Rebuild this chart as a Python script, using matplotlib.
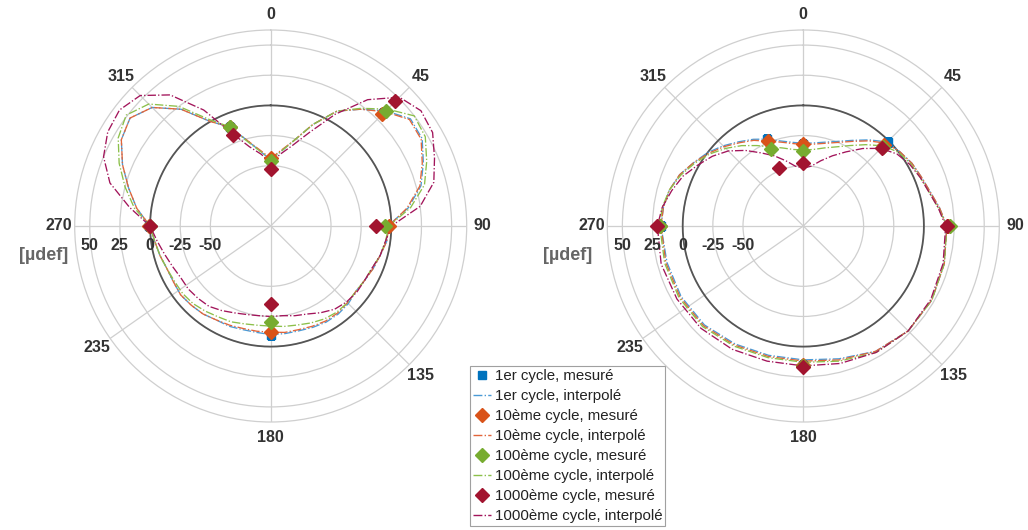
import numpy as np
import matplotlib
matplotlib.use("Agg")
import matplotlib.pyplot as plt
from matplotlib.lines import Line2D
from matplotlib.transforms import ScaledTranslation

# ---------------- data ----------------
series_names = ["1er cycle", "10ème cycle", "100ème cycle", "1000ème cycle"]

# measured angles (deg, clockwise from north)
meas_theta = [0, 45, 90, 180, 270, 337.5]

# left panel measured values [µdef]
left_meas_1 = [-45, 32, -3, -10, 1, -11]
left_meas_10 = [-44, 31, -2, -12, 1, -11]
left_meas_100 = [-46, 35, -5, -20, 0, -11]
left_meas_1000 = [-53, 46, -13, -35, 0, -18]

# right panel measured values [µdef]
right_meas_1 = [-32, -1, 21, 15, 18, -22]
right_meas_10 = [-32, -5, 20, 15, 19, -24]
right_meas_100 = [-38, -7, 22, 16, 19, -31]
right_meas_1000 = [-48, -8, 19, 17, 21, -48]

# left panel interpolated curves (every 7.5 deg)
left_theta = [0, 7.5, 15, 22.5, 30, 37.5, 45, 52.5, 60, 67.5, 75, 82.5,
              90, 97.5, 105, 112.5, 120, 127.5, 135, 142.5, 150, 157.5, 165, 172.5,
              180, 187.5, 195, 202.5, 210, 217.5, 225, 232.5, 240, 247.5, 255, 262.5,
              270, 277.5, 285, 292.5, 300, 307.5, 315, 322.5, 330, 337.5, 345, 352.5]
left_curve_1 = [-45, -38, -27, -9, 10, 22, 35, 46, 45, 37, 29, 15,
                -3, -3, -6, -8, -10, -11, -9, -8, -8, -9, -10, -10,
                -10, -11, -11, -10, -10, -8, -7, -6, -7, -7, -5, -3,
                0, 12, 22, 33, 43, 47, 39, 22, 0, -11, -27, -38]
left_curve_10 = [-44, -37, -27, -9, 10, 22, 34, 45, 44, 36, 28, 14,
                 -2, -3, -6, -8, -10, -11, -10, -9, -9, -10, -11, -11,
                 -12, -12, -12, -11, -10, -8, -7, -6, -7, -7, -5, -3,
                 0, 12, 22, 33, 43, 47, 39, 22, 0, -11, -27, -37]
left_curve_100 = [-45, -38, -27, -9, 10, 23, 37, 50, 48, 40, 32, 17,
                  -2, -4, -6, -9, -10, -11, -10, -10, -11, -13, -15, -16,
                  -17, -17, -16, -14, -13, -11, -9, -8, -8, -7, -5, -3,
                  0, 14, 25, 36, 46, 51, 43, 25, 2, -11, -28, -38]
left_curve_1000 = [-48, -40, -31, -16, 7, 32, 51, 57, 55, 47, 40, 25,
                   0, -4, -6, -9, -10, -10, -11, -13, -17, -21, -23, -25,
                   -25, -25, -24, -22, -19, -16, -15, -14, -14, -12, -9, -5,
                   0, 18, 38, 50, 56, 58, 53, 37, 11, -17, -32, -40]

# right panel interpolated curves
right_theta = [0, 7.5, 15, 22.5, 30, 37.5, 45, 52.5, 60, 67.5, 75, 82.5,
               90, 105, 120, 135, 150, 165, 180, 195, 210, 225, 240, 255,
               270, 277.5, 285, 292.5, 300, 307.5, 315, 322.5, 330, 337.5, 345, 352.5]
right_curve_1 = [-31.5, -30.5, -28, -24, -18, -10, -1.5, 1, 4, 6, 9, 14,
                 19, 21, 23, 23, 20, 14, 11, 11, 13, 16, 17, 17,
                 18, 17, 15, 11, 5, 0, -6, -12, -17, -22, -27, -30]
right_curve_10 = [-32.5, -31.5, -29, -25, -19, -11, -3, 1, 4, 6, 9, 14,
                  19, 21, 23, 23, 20, 15, 12, 12, 14, 17, 18, 18,
                  18, 17, 15, 11, 5, -1, -7, -13, -18, -24, -28, -31]
right_curve_100 = [-37, -36, -33, -29, -23, -15, -6, 0, 3, 5, 8, 13,
                   19, 21, 23, 23, 21, 16, 13, 13, 15, 18, 19, 19,
                   19, 18, 15, 10, 4, -2, -9, -16, -23, -29, -33, -36]
right_curve_1000 = [-52, -50, -44, -37, -29, -19, -9, -2, 2, 5, 8, 13,
                    18, 20, 22, 23, 21, 18, 16, 16, 18, 20, 21, 22,
                    21, 18, 13, 8, 1, -5, -12, -21, -30, -37, -44, -50]

theta_ticks = [0, 45, 90, 135, 180, 235, 270, 315]
theta_labels = ["0", "45", "90", "135", "180", "235", "270", "315"]
r_ticks = [-50, -25, 0, 25, 50]
r_labels = ["-50", "-25", "0", "25", "50"]
r_min, r_max = -100, 62.5
unit_label = "[µdef]"

# ---------------- style ----------------
marker_colors = ["#0072BD", "#D95319", "#77AC30", "#A2142F"]
line_colors = ["#4A9AD6", "#E2653A", "#8CC04A", "#A2145A"]
markers = ["s", "D", "D", "D"]
msizes = [6, 7.5, 7.5, 7.5]

plt.rcParams["font.family"] = ["Liberation Sans", "DejaVu Sans"]

fig = plt.figure(figsize=(10.28, 5.30), dpi=100)

def make_panel(rect, curves_theta, curves, meas):
    ax = fig.add_axes(rect, projection="polar")
    ax.set_theta_zero_location("N")
    ax.set_theta_direction(-1)
    ax.set_ylim(r_min, r_max)
    ax.set_thetagrids(theta_ticks, theta_labels)
    ax.set_rgrids(r_ticks, labels=[""] * len(r_ticks))
    ax.grid(True, color="#cfcfcf", lw=0.9)
    ax.spines["polar"].set_color("#cfcfcf")
    ax.spines["polar"].set_linewidth(0.9)
    ax.tick_params(axis="x", pad=1, labelsize=11.5, labelcolor="#333333")
    for lab in ax.get_xticklabels():
        lab.set_fontweight("bold")
    # reference zero circle
    tt = np.linspace(0, 2 * np.pi, 361)
    ax.plot(tt, np.zeros_like(tt), color="#555555", lw=1.3, zorder=2)
    th = np.deg2rad(curves_theta + [curves_theta[0]])
    for i, c in enumerate(curves):
        ax.plot(th, c + [c[0]], ls="-.", lw=0.95, color=line_colors[i], zorder=3)
    mt = np.deg2rad(meas_theta)
    for i, m in enumerate(meas):
        ax.plot(mt, m, ls="none", marker=markers[i], ms=msizes[i],
                color=marker_colors[i], zorder=4 + i)
    # radial labels below the 270 line
    off = ScaledTranslation(0, -19 / 100, fig.dpi_scale_trans)
    for v, lab in zip(r_ticks, r_labels):
        ax.text(np.deg2rad(270), v, lab, transform=ax.transData + off,
                ha="center", va="center", fontsize=11.5, fontweight="bold",
                color="#333333", clip_on=False)
    return ax

W, H = 1028, 530
R = 196
def rect_for(cx, cy):
    return [(cx - R) / W, (H - cy - R) / H, 2 * R / W, 2 * R / H]

axL = make_panel(rect_for(270.7, 226), left_theta,
                 [left_curve_1, left_curve_10, left_curve_100, left_curve_1000],
                 [left_meas_1, left_meas_10, left_meas_100, left_meas_1000])
axR = make_panel(rect_for(803.3, 226), right_theta,
                 [right_curve_1, right_curve_10, right_curve_100, right_curve_1000],
                 [right_meas_1, right_meas_10, right_meas_100, right_meas_1000])

fig.text(44 / W, 1 - 255 / H, unit_label, ha="center", va="center",
         fontsize=13, fontweight="bold", color="#666666")
fig.text(568 / W, 1 - 256 / H, unit_label, ha="center", va="center",
         fontsize=13, fontweight="bold", color="#666666")

handles, labels = [], []
for i, n in enumerate(series_names):
    handles.append(Line2D([], [], ls="none", marker=markers[i], ms=msizes[i] - 0.5,
                          color=marker_colors[i]))
    labels.append(n + ", mesuré")
    handles.append(Line2D([], [], ls="-.", lw=1.0, color=line_colors[i]))
    labels.append(n + ", interpolé")

leg = fig.legend(handles, labels, loc="upper left",
                 bbox_to_anchor=(470 / W, 1 - 366 / H), fontsize=10.8,
                 frameon=True, fancybox=False, edgecolor="#888888",
                 handlelength=1.2, handletextpad=0.25, labelspacing=0.4,
                 borderpad=0.2, borderaxespad=0)
leg.get_frame().set_linewidth(0.8)
for t in leg.get_texts():
    t.set_color("#222222")

fig.savefig("out.png", dpi=100)
